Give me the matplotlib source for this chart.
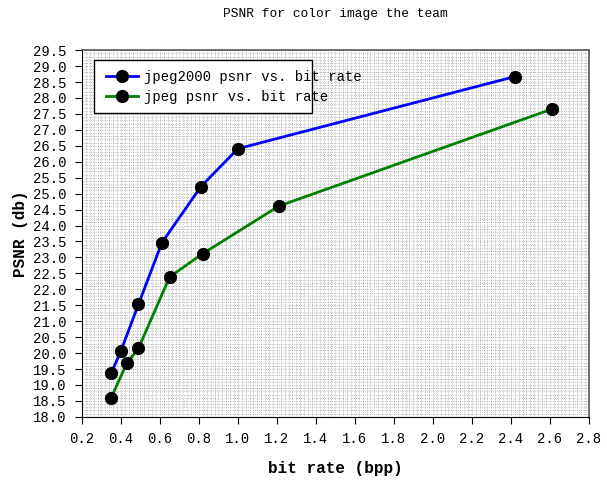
import matplotlib
matplotlib.use('Agg')
import matplotlib.pyplot as plt
from matplotlib.ticker import MultipleLocator
from matplotlib.patches import Rectangle

plt.rcParams['font.family'] = ['Liberation Mono', 'DejaVu Sans Mono']

# bit rate (bpp) and PSNR (db) for the two codecs
j2k_rate = [0.35, 0.40, 0.49, 0.61, 0.81, 1.00, 2.42]
j2k_psnr = [19.37, 20.07, 21.53, 23.46, 25.22, 26.41, 28.67]
jpeg_rate = [0.35, 0.43, 0.49, 0.65, 0.82, 1.21, 2.61]
jpeg_psnr = [18.60, 19.68, 20.15, 22.39, 23.12, 24.61, 27.65]

fig = plt.figure(figsize=(6.07, 4.87), dpi=100)
ax = fig.add_axes([0.135, 0.144, 0.835, 0.753])

ax.plot(j2k_rate, j2k_psnr, color='#0000ff', lw=2.0, marker='o', ms=8.5,
        mfc='black', mec='black', label='jpeg2000 psnr vs. bit rate')
ax.plot(jpeg_rate, jpeg_psnr, color='#008000', lw=2.0, marker='o', ms=8.5,
        mfc='black', mec='black', label='jpeg psnr vs. bit rate')

ax.set_xlim(0.2, 2.8)
ax.set_ylim(18.0, 29.5)
ax.xaxis.set_major_locator(MultipleLocator(0.2))
ax.yaxis.set_major_locator(MultipleLocator(0.5))
ax.xaxis.set_minor_locator(MultipleLocator(0.02))
ax.yaxis.set_minor_locator(MultipleLocator(0.1))
ax.xaxis.set_major_formatter(plt.FormatStrFormatter('%.1f'))
ax.yaxis.set_major_formatter(plt.FormatStrFormatter('%.1f'))

ax.grid(True, which='both', color='#a0a0a0', linestyle=':', linewidth=0.6)
ax.set_axisbelow(True)
ax.tick_params(which='major', direction='out', length=5, labelsize=10, pad=6)
ax.tick_params(which='minor', length=0)

for side in ['top', 'right']:
    ax.spines[side].set_color('#555555')
    ax.spines[side].set_linewidth(1.2)

ax.set_title('PSNR for color image the team', fontsize=9.3, pad=24)
ax.set_xlabel('bit rate (bpp)', fontsize=11.5, fontweight='bold', labelpad=11)
ax.set_ylabel('PSNR (db)', fontsize=11.5, fontweight='bold', labelpad=4)

# legend box is narrower than its text
leg = ax.legend(loc='upper left', bbox_to_anchor=(0.022, 0.98), fontsize=10,
                frameon=False, handlelength=2.3, handletextpad=0.5,
                borderpad=0.4, labelspacing=0.45)
box = Rectangle((0.024, 0.828), 0.430, 0.145, transform=ax.transAxes,
                facecolor='white', edgecolor='black', linewidth=1.0, zorder=4)
ax.add_patch(box)
leg.set_zorder(5)

fig.savefig('out.png', dpi=100)
